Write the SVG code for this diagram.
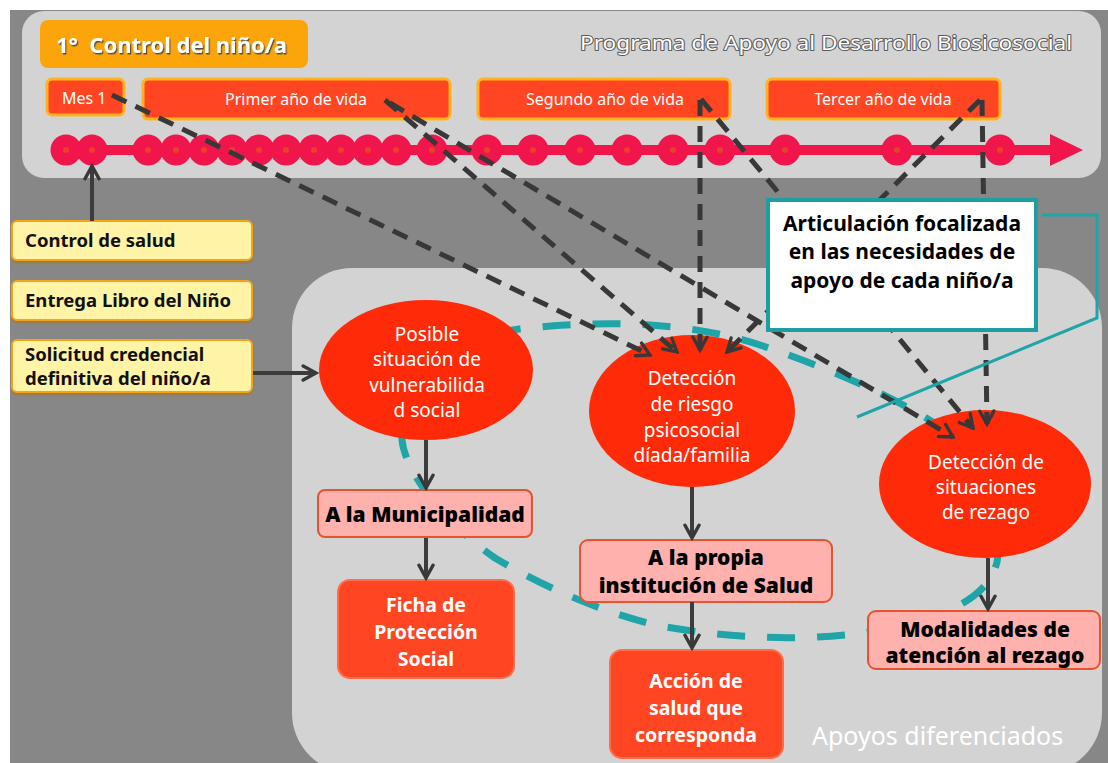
<svg xmlns="http://www.w3.org/2000/svg" width="1108" height="763" viewBox="0 0 1108 763">
<style>
.f{font-family:"Noto Sans","Open Sans","DejaVu Sans",sans-serif}
.wt{fill:#fff;font-size:16px}
.yb{fill:#FFF3A6;stroke:#F2A51E;stroke-width:2}
.ybt{fill:#111;font-size:18.5px;font-weight:700}
.tb{fill:#FF4521;stroke:#FFB41E;stroke-width:3}
.el{fill:#FF2B08}
.elt{fill:#fff;font-size:19px;text-anchor:middle}
.pk{fill:#FFB1AD;stroke:#E8532F;stroke-width:2}
.pkt{fill:#000;font-size:21px;font-weight:900;text-anchor:middle}
.ob{fill:#FF4521;stroke:#FF6D4A;stroke-width:2}
.obt{fill:#fff;font-size:19.5px;font-weight:700;text-anchor:middle}
.ct{fill:#000;font-size:21px;font-weight:700;text-anchor:middle}
.dash{fill:none;stroke:#383838;stroke-width:5;stroke-dasharray:16 10;marker-end:url(#chev)}
.sol{fill:none;stroke:#3c3c3c;stroke-width:4;marker-end:url(#chev)}
.tl{fill:#F0154A}
.td{fill:#EB3F2A}
</style>
<defs>
<marker id="chev" viewBox="0 0 14 14" refX="12" refY="7" markerWidth="18" markerHeight="18" markerUnits="userSpaceOnUse" orient="auto">
<path d="M2,1.5 L12,7 L2,12.5" fill="none" stroke="#383838" stroke-width="2.6" stroke-linecap="round" stroke-linejoin="miter"/>
</marker>
<filter id="sh" x="-5%" y="-30%" width="110%" height="160%"><feDropShadow dx="1.2" dy="1.5" stdDeviation="0.5" flood-color="#444" flood-opacity="0.9"/></filter>
<filter id="bs" x="-5%" y="-20%" width="110%" height="150%"><feDropShadow dx="0" dy="2" stdDeviation="1" flood-color="#B07000" flood-opacity="0.6"/></filter>
</defs>

<!-- background -->
<rect x="0" y="0" width="1108" height="763" fill="#fff"/>
<rect x="10" y="10" width="1098" height="753" fill="#878787"/>
<rect x="22" y="11" width="1079" height="167" rx="22" fill="#D3D3D3"/>
<rect x="292" y="268" width="810" height="505" rx="60" fill="#D3D3D3"/>

<!-- header -->
<g id="title">
<rect x="40" y="20" width="268" height="48" rx="8" fill="#FBA50A"/>
<text class="f" x="56" y="53" fill="#fff" font-size="22" font-weight="700" filter="url(#sh)" xml:space="preserve">1°  Control del niño/a</text>
</g>
<g id="programa">
<text class="f" x="580" y="50" fill="#fff" font-size="20" textLength="492" lengthAdjust="spacingAndGlyphs" stroke="#5a5a5a" stroke-width="2" paint-order="stroke" stroke-linejoin="round">Programa de Apoyo al Desarrollo Biosicosocial</text>
</g>

<!-- timeline -->
<g id="timeline">
<rect x="66" y="145" width="986" height="10" class="tl"/>
<polygon points="1050,134 1083,150 1050,166" class="tl"/>
<g class="tl">
<circle cx="66" cy="150" r="15.5"/><circle cx="92" cy="150" r="15.5"/>
<circle cx="148" cy="150" r="15.5"/><circle cx="176" cy="150" r="15.5"/><circle cx="204" cy="150" r="15.5"/>
<circle cx="232" cy="150" r="15.5"/><circle cx="259" cy="150" r="15.5"/><circle cx="286" cy="150" r="15.5"/>
<circle cx="314" cy="150" r="15.5"/><circle cx="341" cy="150" r="15.5"/><circle cx="368" cy="150" r="15.5"/>
<circle cx="396" cy="150" r="15.5"/><circle cx="432" cy="150" r="15.5"/><circle cx="487" cy="150" r="15.5"/>
<circle cx="533" cy="150" r="15.5"/><circle cx="580" cy="150" r="15.5"/><circle cx="627" cy="150" r="15.5"/>
<circle cx="673" cy="150" r="15.5"/><circle cx="720" cy="150" r="15.5"/><circle cx="785" cy="150" r="15.5"/>
<circle cx="897" cy="150" r="15.5"/><circle cx="1000" cy="150" r="15.5"/>
</g>
<g class="td">
<circle cx="66" cy="150" r="3"/><circle cx="92" cy="150" r="3"/>
<circle cx="148" cy="150" r="3"/><circle cx="176" cy="150" r="3"/><circle cx="204" cy="150" r="3"/>
<circle cx="232" cy="150" r="3"/><circle cx="259" cy="150" r="3"/><circle cx="286" cy="150" r="3"/>
<circle cx="314" cy="150" r="3"/><circle cx="341" cy="150" r="3"/><circle cx="368" cy="150" r="3"/>
<circle cx="396" cy="150" r="3"/><circle cx="432" cy="150" r="3"/><circle cx="487" cy="150" r="3"/>
<circle cx="533" cy="150" r="3"/><circle cx="580" cy="150" r="3"/><circle cx="627" cy="150" r="3"/>
<circle cx="673" cy="150" r="3"/><circle cx="720" cy="150" r="3"/><circle cx="785" cy="150" r="3"/>
<circle cx="897" cy="150" r="3"/><circle cx="1000" cy="150" r="3"/>
</g>
</g>

<g id="mes1"><rect class="tb" x="47" y="79" width="77" height="36" rx="5"/><text class="f wt" x="62" y="104">Mes 1</text></g>
<g id="primer"><rect class="tb" x="143" y="79" width="307" height="40" rx="5"/><text class="f wt" x="296" y="105" text-anchor="middle">Primer año de vida</text></g>
<g id="segundo"><rect class="tb" x="478" y="79" width="252" height="40" rx="5"/><text class="f wt" x="605" y="105" text-anchor="middle">Segundo año de vida</text></g>
<g id="tercer"><rect class="tb" x="767" y="79" width="233" height="40" rx="5"/><text class="f wt" x="883" y="105" text-anchor="middle">Tercer año de vida</text></g>

<!-- left boxes -->
<g id="control"><rect class="yb" x="12" y="221" width="240" height="39" rx="5" filter="url(#bs)"/><text class="f ybt" x="25" y="247">Control de salud</text></g>
<g id="libro"><rect class="yb" x="12" y="281" width="240" height="39" rx="5" filter="url(#bs)"/><text class="f ybt" x="25" y="307">Entrega Libro del Niño</text></g>
<g id="solicitud"><rect class="yb" x="12" y="340" width="240" height="52" rx="5" filter="url(#bs)"/><text class="f ybt" x="25" y="361">Solicitud credencial</text><text class="f ybt" x="25" y="385">definitiva del niño/a</text></g>

<!-- teal dashed loop -->
<path id="loop" d="M402,440 C398,390 450,335 528,328 C610,320 690,322 760,345 C840,372 900,400 945,430 C990,470 1005,520 997,562 C988,600 940,620 870,632 C800,642 730,638 660,626 C600,612 540,585 495,558 C440,520 405,470 402,440 Z" fill="none" stroke="#1FA5A8" stroke-width="7" stroke-dasharray="28 22"/>

<!-- ellipses -->
<g id="vulnerabilidad"><ellipse class="el" cx="426" cy="370" rx="107" ry="70"/>
<text class="f elt" x="427" y="341">Posible</text><text class="f elt" x="427" y="366">situación de</text><text class="f elt" x="427" y="392">vulnerabilida</text><text class="f elt" x="427" y="417">d social</text></g>
<g id="riesgo"><ellipse class="el" cx="692" cy="411" rx="103" ry="76"/>
<text class="f elt" x="692" y="385">Detección</text><text class="f elt" x="692" y="411">de riesgo</text><text class="f elt" x="692" y="437">psicosocial</text><text class="f elt" x="692" y="462">díada/familia</text></g>
<g id="rezago"><ellipse class="el" cx="985" cy="484" rx="106" ry="74"/>
<text class="f elt" x="986" y="469">Detección de</text><text class="f elt" x="986" y="494">situaciones</text><text class="f elt" x="986" y="519">de rezago</text></g>

<!-- boxes -->
<g id="municipalidad"><rect class="pk" x="318" y="490" width="214" height="47" rx="7"/><text class="f pkt" x="425" y="522">A la Municipalidad</text></g>
<g id="propia"><rect class="pk" x="580" y="540" width="252" height="62" rx="8"/><text class="f pkt" x="706" y="565">A la propia</text><text class="f pkt" x="706" y="593">institución de Salud</text></g>
<g id="modalidades"><rect class="pk" x="868" y="611" width="232" height="58" rx="8"/><text class="f pkt" x="985" y="637">Modalidades de</text><text class="f pkt" x="985" y="663">atención al rezago</text></g>
<g id="ficha"><rect class="ob" x="338" y="580" width="176" height="98" rx="12"/><text class="f obt" x="426" y="612">Ficha de</text><text class="f obt" x="426" y="639">Protección</text><text class="f obt" x="426" y="666">Social</text></g>
<g id="accion"><rect class="ob" x="610" y="650" width="173" height="108" rx="12"/><text class="f obt" x="696" y="688">Acción de</text><text class="f obt" x="696" y="715">salud que</text><text class="f obt" x="696" y="742">corresponda</text></g>

<!-- connectors -->
<g id="connectors">
<line class="sol" x1="92" y1="221" x2="92" y2="166"/>
<line class="sol" x1="253" y1="373" x2="316" y2="373"/>
<line class="sol" x1="426" y1="440" x2="426" y2="488"/>
<line class="sol" x1="426" y1="538" x2="426" y2="578"/>
<line class="sol" x1="692" y1="487" x2="692" y2="538"/>
<line class="sol" x1="692" y1="602" x2="692" y2="648"/>
<line class="sol" x1="988" y1="558" x2="988" y2="609"/>
<line class="dash" x1="112" y1="95" x2="650" y2="355"/>
<line class="dash" x1="385" y1="100" x2="677" y2="352"/>
<line class="dash" x1="390" y1="103" x2="953" y2="437"/>
<line class="dash" x1="700" y1="100" x2="700" y2="350"/>
<line class="dash" x1="701" y1="99" x2="973" y2="428"/>
<line class="dash" x1="980" y1="100" x2="727" y2="352"/>
<line class="dash" x1="982" y1="100" x2="987" y2="424"/>
</g>

<!-- callout -->
<g id="articulacion">
<polyline points="1042,215 1097,215 1097,318 857,417" fill="none" stroke="#1FA5A8" stroke-width="3"/>
<rect x="768" y="200" width="268" height="130" fill="#fff" stroke="#1E9EA0" stroke-width="4"/>
<text class="f ct" x="902" y="231">Articulación focalizada</text>
<text class="f ct" x="902" y="259">en las necesidades de</text>
<text class="f ct" x="902" y="288">apoyo de cada niño/a</text>
</g>

<g id="apoyos"><text class="f" x="812" y="745" fill="#fff" font-size="25">Apoyos diferenciados</text></g>
</svg>
